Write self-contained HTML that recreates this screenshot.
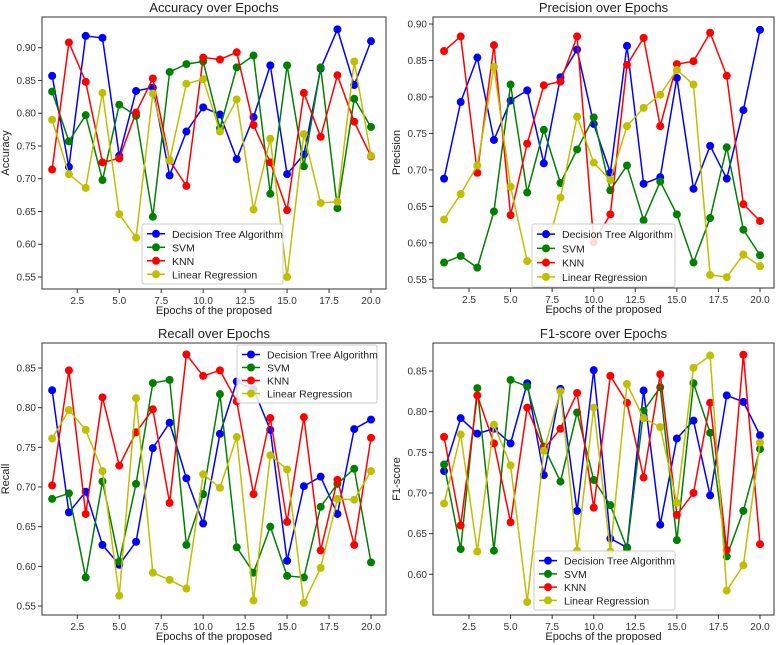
<!DOCTYPE html>
<html><head><meta charset="utf-8"><style>
body{margin:0;background:#fff;}
svg{display:block;font-family:"Liberation Sans","DejaVu Sans",sans-serif;}
</style></head><body>
<svg id="c" width="777" height="645"></svg>
<script>
const epochs=[1,2,3,4,5,6,7,8,9,10,11,12,13,14,15,16,17,18,19,20];
const seriesNames=["Decision Tree Algorithm","SVM","KNN","Linear Regression"];
const accDT=[0.857,0.718,0.918,0.915,0.735,0.834,0.839,0.705,0.772,0.809,0.798,0.730,0.794,0.873,0.707,0.737,0.868,0.928,0.843,0.910];
const accSVM=[0.833,0.757,0.797,0.698,0.813,0.796,0.642,0.863,0.875,0.879,0.777,0.870,0.888,0.677,0.873,0.719,0.870,0.655,0.822,0.779];
const accKNN=[0.714,0.908,0.848,0.725,0.731,0.801,0.853,0.728,0.689,0.885,0.882,0.893,0.782,0.725,0.652,0.831,0.764,0.858,0.787,0.734];
const accLR=[0.790,0.707,0.686,0.831,0.646,0.610,0.830,0.728,0.845,0.852,0.772,0.821,0.653,0.761,0.550,0.768,0.663,0.665,0.879,0.735];
const preDT=[0.688,0.793,0.854,0.741,0.795,0.809,0.709,0.827,0.865,0.763,0.696,0.870,0.681,0.690,0.826,0.674,0.733,0.688,0.782,0.892];
const preSVM=[0.573,0.582,0.566,0.643,0.817,0.669,0.755,0.682,0.728,0.772,0.672,0.706,0.631,0.684,0.639,0.573,0.634,0.731,0.618,0.583];
const preKNN=[0.863,0.883,0.696,0.871,0.638,0.736,0.816,0.821,0.883,0.601,0.639,0.844,0.881,0.760,0.845,0.849,0.888,0.829,0.653,0.630];
const preLR=[0.632,0.667,0.706,0.841,0.677,0.575,0.577,0.662,0.773,0.710,0.686,0.760,0.785,0.803,0.837,0.817,0.556,0.553,0.584,0.568];
const recDT=[0.822,0.668,0.694,0.627,0.602,0.631,0.749,0.781,0.711,0.654,0.767,0.833,0.823,0.772,0.607,0.701,0.713,0.666,0.773,0.785];
const recSVM=[0.685,0.692,0.586,0.707,0.606,0.704,0.831,0.835,0.627,0.691,0.817,0.624,0.592,0.650,0.588,0.586,0.675,0.704,0.723,0.605];
const recKNN=[0.702,0.847,0.666,0.813,0.727,0.769,0.798,0.680,0.867,0.840,0.847,0.808,0.691,0.787,0.656,0.788,0.620,0.709,0.627,0.762];
const recLR=[0.761,0.797,0.772,0.720,0.563,0.812,0.592,0.583,0.572,0.716,0.699,0.763,0.557,0.740,0.722,0.554,0.598,0.685,0.684,0.720];
const f1DT=[0.727,0.792,0.773,0.779,0.761,0.835,0.722,0.828,0.678,0.851,0.644,0.633,0.826,0.661,0.767,0.789,0.697,0.820,0.812,0.771];
const f1SVM=[0.735,0.631,0.829,0.629,0.839,0.831,0.757,0.714,0.799,0.716,0.685,0.632,0.801,0.830,0.642,0.835,0.774,0.622,0.678,0.754];
const f1KNN=[0.769,0.660,0.820,0.761,0.664,0.805,0.754,0.779,0.823,0.682,0.844,0.811,0.719,0.846,0.673,0.700,0.811,0.630,0.870,0.637];
const f1LR=[0.687,0.772,0.628,0.784,0.734,0.566,0.752,0.825,0.629,0.805,0.628,0.834,0.792,0.781,0.688,0.854,0.869,0.580,0.611,0.762];
const xTicks=[2.5,5.0,7.5,10.0,12.5,15.0,17.5,20.0];
const accTicks=[0.55,0.60,0.65,0.70,0.75,0.80,0.85,0.90];
const preTicks=[0.55,0.60,0.65,0.70,0.75,0.80,0.85,0.90];
const recTicks=[0.55,0.60,0.65,0.70,0.75,0.80,0.85];
const f1Ticks=[0.60,0.65,0.70,0.75,0.80,0.85];
const colors=["#0000ff","#008000","#ff0000","#bfbf00"];
const NS="http://www.w3.org/2000/svg";
const svg=document.getElementById("c");
function mk(tag,attrs,parent){const e=document.createElementNS(NS,tag);for(const k in attrs)e.setAttribute(k,attrs[k]);(parent||svg).appendChild(e);return e;}
const panels=[
 {key:"accuracy",title:"Accuracy over Epochs",ylab:"Accuracy",box:[42,17,386,289],xa:[2.5,77.3,20,371],ya:[0.90,47.7,0.55,277],ticks:accTicks,data:[accDT,accSVM,accKNN,accLR],leg:[142,224,283,284]},
 {key:"precision",title:"Precision over Epochs",ylab:"Precision",box:[433,17,774,288],xa:[2.5,469,20,760],ya:[0.90,24,0.55,279.3],ticks:preTicks,data:[preDT,preSVM,preKNN,preLR],leg:[532,224,675,287]},
 {key:"recall",title:"Recall over Epochs",ylab:"Recall",box:[42,343,386,615],xa:[2.5,77.3,20,371],ya:[0.85,368,0.55,606],ticks:recTicks,data:[recDT,recSVM,recKNN,recLR],leg:[237,345,377,403]},
 {key:"f1",title:"F1-score over Epochs",ylab:"F1-score",box:[433,343,774,615],xa:[2.5,469,20,760],ya:[0.85,371,0.60,574.3],ticks:f1Ticks,data:[f1DT,f1SVM,f1KNN,f1LR],leg:[534,551,675,610]}
];
panels.forEach(p=>{
 const g=mk("g",{});
 
 
 const [l,t,r,b]=p.box;
 const sx=v=>p.xa[1]+(v-p.xa[0])*(p.xa[3]-p.xa[1])/(p.xa[2]-p.xa[0]);
 const sy=v=>p.ya[1]+(v-p.ya[0])*(p.ya[3]-p.ya[1])/(p.ya[2]-p.ya[0]);
 const tt=mk("text",{x:(l+r)/2,y:t-5,"text-anchor":"middle","font-size":"13",fill:"#222"},g);tt.textContent=p.title;
 
 
 const xl=mk("text",{x:(l+r)/2,y:b+25,"text-anchor":"middle","font-size":"11",fill:"#222"},g);xl.textContent="Epochs of the proposed";
 
 
 const cy=(t+b)/2;
 const yl=mk("text",{x:l-33,y:cy,"text-anchor":"middle","font-size":"11",fill:"#222",transform:`rotate(-90 ${l-33} ${cy})`},g);yl.textContent=p.ylab;
 
 
 xTicks.forEach(v=>{const x=sx(v);mk("line",{x1:x,x2:x,y1:b,y2:b+4,stroke:"#333"},g);
  const tx=mk("text",{x:x,y:b+15,"text-anchor":"middle","font-size":"10",fill:"#333"},g);tx.textContent=v.toFixed(1);
  
  });
 p.ticks.forEach(v=>{const y=sy(v);mk("line",{x1:l-4,x2:l,y1:y,y2:y,stroke:"#333"},g);
  const ty=mk("text",{x:l-6,y:y+3.5,"text-anchor":"end","font-size":"10",fill:"#333"},g);ty.textContent=v.toFixed(2);
  
  });
 p.data.forEach((arr,si)=>{
  const pts=arr.map((v,i)=>sx(epochs[i])+","+sy(v)).join(" ");
  const pl=mk("polyline",{points:pts,fill:"none",stroke:colors[si],"stroke-width":"1.5"},g);
  
  
  arr.forEach((v,i)=>{const c=mk("circle",{cx:sx(epochs[i]),cy:sy(v),r:4,fill:colors[si]},g);
   
   });
 });
 mk("rect",{x:l,y:t,width:r-l,height:b-t,fill:"none",stroke:"#333","stroke-width":"1"},g);
 const [ll,lt,lr,lb]=p.leg;
 const lg=mk("g",{},g);
 
 
 mk("rect",{x:ll,y:lt,width:lr-ll,height:lb-lt,fill:"#fff","fill-opacity":"0.85",stroke:"#ccc",rx:2},lg);
 const step=(lb-lt-6)/4;
 seriesNames.forEach((n,si)=>{
  const y=lt+3+step*(si+0.5);
  mk("line",{x1:ll+5,x2:ll+23,y1:y,y2:y,stroke:colors[si],"stroke-width":"1.5"},lg);
  mk("circle",{cx:ll+14,cy:y,r:4,fill:colors[si]},lg);
  const te=mk("text",{x:ll+30,y:y+4,"font-size":"10.5",fill:"#222"},lg);te.textContent=n;
  
  
 });
});
</script>
</body></html>
